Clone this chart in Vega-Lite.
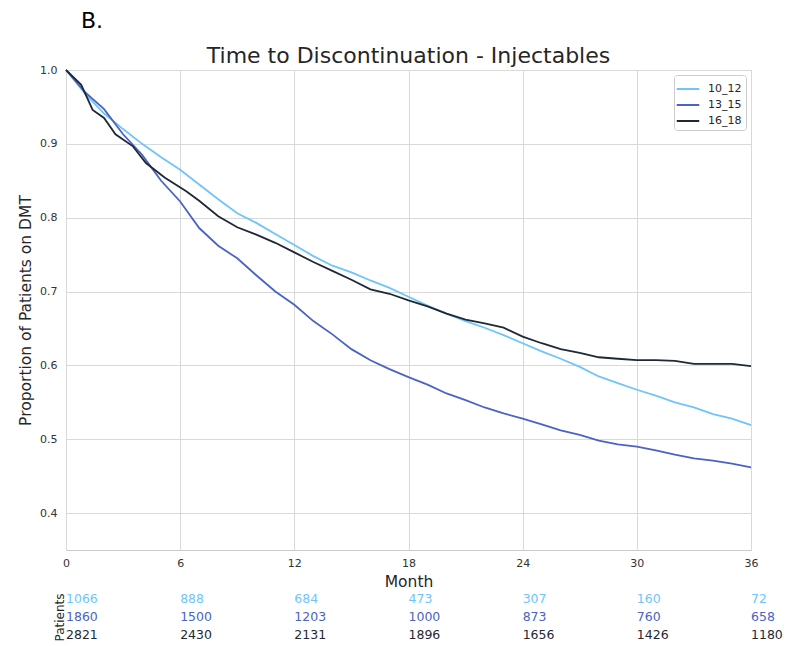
{
  "$schema": "https://vega.github.io/schema/vega-lite/v6.json",
  "padding": {"left": 18, "top": 9, "right": 5, "bottom": 2},
  "title": {"text": "B.", "anchor": "start", "frame": "group", "dx": 15, "fontSize": 22, "font": "DejaVu Sans", "fontWeight": "normal", "color": "#000000", "offset": 12},
  "config": {"font": "DejaVu Sans", "view": {"stroke": null}},
  "spacing": 0,
  "datasets": {
    "km": [
      {"group": "10_12", "month": 0, "p": 1.0}, {"group": "10_12", "month": 1, "p": 0.968}, {"group": "10_12", "month": 2, "p": 0.941}, {"group": "10_12", "month": 3, "p": 0.920}, {"group": "10_12", "month": 4, "p": 0.900}, {"group": "10_12", "month": 5, "p": 0.882}, {"group": "10_12", "month": 6, "p": 0.865}, {"group": "10_12", "month": 7, "p": 0.845}, {"group": "10_12", "month": 8, "p": 0.825}, {"group": "10_12", "month": 9, "p": 0.806}, {"group": "10_12", "month": 10, "p": 0.793}, {"group": "10_12", "month": 11, "p": 0.778}, {"group": "10_12", "month": 12, "p": 0.763}, {"group": "10_12", "month": 13, "p": 0.748}, {"group": "10_12", "month": 14, "p": 0.735}, {"group": "10_12", "month": 15, "p": 0.726}, {"group": "10_12", "month": 16, "p": 0.715}, {"group": "10_12", "month": 17, "p": 0.705}, {"group": "10_12", "month": 18, "p": 0.693}, {"group": "10_12", "month": 19, "p": 0.681}, {"group": "10_12", "month": 20, "p": 0.670}, {"group": "10_12", "month": 21, "p": 0.660}, {"group": "10_12", "month": 22, "p": 0.651}, {"group": "10_12", "month": 23, "p": 0.641}, {"group": "10_12", "month": 24, "p": 0.630}, {"group": "10_12", "month": 25, "p": 0.619}, {"group": "10_12", "month": 26, "p": 0.609}, {"group": "10_12", "month": 27, "p": 0.598}, {"group": "10_12", "month": 28, "p": 0.585}, {"group": "10_12", "month": 29, "p": 0.576}, {"group": "10_12", "month": 30, "p": 0.567}, {"group": "10_12", "month": 31, "p": 0.559}, {"group": "10_12", "month": 32, "p": 0.550}, {"group": "10_12", "month": 33, "p": 0.543}, {"group": "10_12", "month": 34, "p": 0.534}, {"group": "10_12", "month": 35, "p": 0.528}, {"group": "10_12", "month": 36, "p": 0.519},
      {"group": "13_15", "month": 0, "p": 1.0}, {"group": "13_15", "month": 1, "p": 0.970}, {"group": "13_15", "month": 2, "p": 0.947}, {"group": "13_15", "month": 3, "p": 0.913}, {"group": "13_15", "month": 4, "p": 0.885}, {"group": "13_15", "month": 5, "p": 0.850}, {"group": "13_15", "month": 6, "p": 0.822}, {"group": "13_15", "month": 7, "p": 0.786}, {"group": "13_15", "month": 8, "p": 0.762}, {"group": "13_15", "month": 9, "p": 0.745}, {"group": "13_15", "month": 10, "p": 0.722}, {"group": "13_15", "month": 11, "p": 0.700}, {"group": "13_15", "month": 12, "p": 0.682}, {"group": "13_15", "month": 13, "p": 0.660}, {"group": "13_15", "month": 14, "p": 0.642}, {"group": "13_15", "month": 15, "p": 0.622}, {"group": "13_15", "month": 16, "p": 0.607}, {"group": "13_15", "month": 17, "p": 0.595}, {"group": "13_15", "month": 18, "p": 0.584}, {"group": "13_15", "month": 19, "p": 0.574}, {"group": "13_15", "month": 20, "p": 0.562}, {"group": "13_15", "month": 21, "p": 0.553}, {"group": "13_15", "month": 22, "p": 0.543}, {"group": "13_15", "month": 23, "p": 0.535}, {"group": "13_15", "month": 24, "p": 0.528}, {"group": "13_15", "month": 25, "p": 0.520}, {"group": "13_15", "month": 26, "p": 0.512}, {"group": "13_15", "month": 27, "p": 0.506}, {"group": "13_15", "month": 28, "p": 0.498}, {"group": "13_15", "month": 29, "p": 0.493}, {"group": "13_15", "month": 30, "p": 0.490}, {"group": "13_15", "month": 31, "p": 0.485}, {"group": "13_15", "month": 32, "p": 0.479}, {"group": "13_15", "month": 33, "p": 0.474}, {"group": "13_15", "month": 34, "p": 0.471}, {"group": "13_15", "month": 35, "p": 0.467}, {"group": "13_15", "month": 36, "p": 0.462},
      {"group": "16_18", "month": 0, "p": 1.0}, {"group": "16_18", "month": 0.8, "p": 0.980}, {"group": "16_18", "month": 1.4, "p": 0.946}, {"group": "16_18", "month": 2, "p": 0.935}, {"group": "16_18", "month": 2.6, "p": 0.913}, {"group": "16_18", "month": 3.5, "p": 0.897}, {"group": "16_18", "month": 4.2, "p": 0.874}, {"group": "16_18", "month": 5.2, "p": 0.854}, {"group": "16_18", "month": 6.3, "p": 0.836}, {"group": "16_18", "month": 7, "p": 0.823}, {"group": "16_18", "month": 8, "p": 0.802}, {"group": "16_18", "month": 9, "p": 0.787}, {"group": "16_18", "month": 10, "p": 0.777}, {"group": "16_18", "month": 11, "p": 0.766}, {"group": "16_18", "month": 12, "p": 0.753}, {"group": "16_18", "month": 13, "p": 0.740}, {"group": "16_18", "month": 14, "p": 0.728}, {"group": "16_18", "month": 15, "p": 0.716}, {"group": "16_18", "month": 16, "p": 0.703}, {"group": "16_18", "month": 17, "p": 0.697}, {"group": "16_18", "month": 18, "p": 0.688}, {"group": "16_18", "month": 19, "p": 0.680}, {"group": "16_18", "month": 20, "p": 0.670}, {"group": "16_18", "month": 21, "p": 0.662}, {"group": "16_18", "month": 22, "p": 0.657}, {"group": "16_18", "month": 23, "p": 0.651}, {"group": "16_18", "month": 24, "p": 0.639}, {"group": "16_18", "month": 25, "p": 0.630}, {"group": "16_18", "month": 26, "p": 0.622}, {"group": "16_18", "month": 27, "p": 0.617}, {"group": "16_18", "month": 28, "p": 0.611}, {"group": "16_18", "month": 29, "p": 0.609}, {"group": "16_18", "month": 30, "p": 0.607}, {"group": "16_18", "month": 31, "p": 0.607}, {"group": "16_18", "month": 32, "p": 0.606}, {"group": "16_18", "month": 33, "p": 0.602}, {"group": "16_18", "month": 34, "p": 0.602}, {"group": "16_18", "month": 35, "p": 0.602}, {"group": "16_18", "month": 36, "p": 0.599}
    ],
    "risk": [
      {"group": "10_12", "month": 0, "n": "1066"}, {"group": "10_12", "month": 6, "n": "888"}, {"group": "10_12", "month": 12, "n": "684"}, {"group": "10_12", "month": 18, "n": "473"}, {"group": "10_12", "month": 24, "n": "307"}, {"group": "10_12", "month": 30, "n": "160"}, {"group": "10_12", "month": 36, "n": "72"},
      {"group": "13_15", "month": 0, "n": "1860"}, {"group": "13_15", "month": 6, "n": "1500"}, {"group": "13_15", "month": 12, "n": "1203"}, {"group": "13_15", "month": 18, "n": "1000"}, {"group": "13_15", "month": 24, "n": "873"}, {"group": "13_15", "month": 30, "n": "760"}, {"group": "13_15", "month": 36, "n": "658"},
      {"group": "16_18", "month": 0, "n": "2821"}, {"group": "16_18", "month": 6, "n": "2430"}, {"group": "16_18", "month": 12, "n": "2131"}, {"group": "16_18", "month": 18, "n": "1896"}, {"group": "16_18", "month": 24, "n": "1656"}, {"group": "16_18", "month": 30, "n": "1426"}, {"group": "16_18", "month": 36, "n": "1180"}
    ]
  },
  "vconcat": [
    {
      "width": 685,
      "height": 480,
      "title": {"text": "Time to Discontinuation - Injectables", "fontSize": 22, "fontWeight": "normal", "color": "#262626", "offset": -4},
      "view": {"stroke": "#cccccc", "strokeWidth": 1},
      "data": {"name": "km"},
      "mark": {"type": "line", "strokeWidth": 1.8},
      "encoding": {
        "x": {"field": "month", "type": "quantitative", "scale": {"domain": [0, 36], "nice": false},
          "axis": {"values": [0, 6, 12, 18, 24, 30, 36], "title": "Month", "titleFontSize": 15.5, "titleFontWeight": "normal", "titleColor": "#262626", "titlePadding": 6, "labelFontSize": 11, "labelColor": "#333333", "labelPadding": 7, "ticks": false, "domain": false, "gridColor": "#d9d9d9", "labelFlush": false}},
        "y": {"field": "p", "type": "quantitative", "scale": {"domain": [0.35, 1.0], "nice": false, "zero": false},
          "axis": {"values": [0.4, 0.5, 0.6, 0.7, 0.8, 0.9, 1.0], "format": ".1f", "title": "Proportion of Patients on DMT", "titleFontSize": 15.5, "titleFontWeight": "normal", "titleColor": "#262626", "titlePadding": 6, "labelFontSize": 11, "labelColor": "#333333", "labelPadding": 9, "ticks": false, "domain": false, "gridColor": "#d9d9d9"}},
        "color": {"field": "group", "type": "nominal",
          "scale": {"domain": ["10_12", "13_15", "16_18"], "range": ["#6fc5fa", "#4a63c4", "#1e2935"]},
          "legend": {"title": null, "orient": "top-right", "offset": 5, "fillColor": "white", "strokeColor": "#cccccc", "cornerRadius": 3, "padding": 4, "symbolType": "M-1.3,0H1.3", "symbolStrokeWidth": 2, "symbolSize": 300, "labelOffset": 10, "labelFontSize": 11, "labelColor": "#262626", "rowPadding": 1}}
      }
    },
    {
      "width": 685,
      "height": 54,
      "view": {"stroke": null},
      "data": {"name": "risk"},
      "mark": {"type": "text", "align": "left", "baseline": "middle", "fontSize": 12.5},
      "encoding": {
        "x": {"field": "month", "type": "quantitative", "scale": {"domain": [0, 36], "nice": false}, "axis": null},
        "y": {"field": "group", "type": "ordinal", "sort": ["10_12", "13_15", "16_18"], "axis": {"title": "Patients", "labels": false, "ticks": false, "domain": false, "grid": false, "titlePadding": 0, "titleFontSize": 12, "titleFontWeight": "normal", "titleColor": "#262626"}},
        "text": {"field": "n"},
        "color": {"field": "group", "type": "nominal", "scale": {"domain": ["10_12", "13_15", "16_18"], "range": ["#6fc5fa", "#4a63c4", "#1e2935"]}, "legend": null}
      }
    }
  ]
}
